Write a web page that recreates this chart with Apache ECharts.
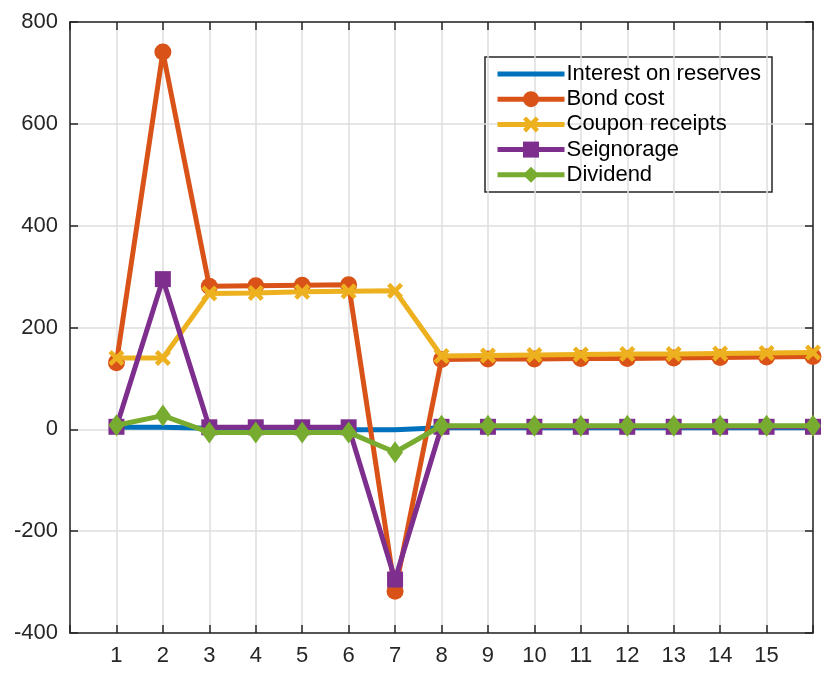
<!DOCTYPE html>
<html>
<head>
<meta charset="utf-8">
<script src="https://cdn.jsdelivr.net/npm/echarts@6/dist/echarts.min.js"></script>
<style>html,body{margin:0;padding:0;background:#fff}#c{width:825px;height:677px}</style>
</head>
<body>
<div id="c"></div>
<script>
const periods = [1,2,3,4,5,6,7,8,9,10,11,12,13,14,15,16];
const interestOnReserves = [4,4,2,1,0,-1,-1,3,3,3,3,3,3,3,3,3];
const bondCost = [131,741,281,282,283,284,-318,137,138,138,139,139,140,141,142,143];
const couponReceipts = [140,140,267,268,270,271,272,144,145,146,147,148,148,149,150,151];
const seignorage = [5,295,4,4,4,4,-295,5,5,5,5,5,5,5,5,5];
const dividend = [8,27,-6,-6,-6,-6,-45,7,7,7,7,7,7,7,7,7];
const yTicks = [-400,-200,0,200,400,600,800];
const xLabels = ['1','2','3','4','5','6','7','8','9','10','11','12','13','14','15'];

const seriesNames = ['Interest on reserves','Bond cost','Coupon receipts','Seignorage','Dividend'];
const colors = ['#0072BD','#D95319','#EDB120','#7E2F8E','#77AC30'];
const xPath = 'path://M0,2 L2,0 L5,3 L8,0 L10,2 L7,5 L10,8 L8,10 L5,7 L2,10 L0,8 L3,5 Z';

function pts(vals){ return periods.map((p,i)=>[p, vals[i]]); }

const font = 'Liberation Sans, Arial, Helvetica, sans-serif';
const axisCol = '#262626';

const chart = echarts.init(document.getElementById('c'), null, {renderer:'canvas'});
const mk = (name, vals, color, symbol, size, z) => ({
  name, type:'line', data: pts(vals), symbol, symbolSize: size, showSymbol: symbol !== 'none',
  lineStyle:{color, width:5}, itemStyle:{color}, z, animation:false
});

const tick = {show:true, inside:true, length:8, lineStyle:{color:axisCol, width:1.5}};
const aline = {show:true, onZero:false, lineStyle:{color:axisCol, width:1.5}};

chart.setOption({
  animation:false,
  color: colors,
  grid:{left:70, right:12, top:22, bottom:44, show:false},
  legend:{
    orient:'vertical', left:490, top:58,
    itemWidth:67, itemHeight:20, itemGap:3.2,
    lineStyle:{width:5},
    textStyle:{fontFamily:font, fontSize:22, color:'#000', padding:[0,0,0,-3]},
    data: seriesNames.map((n,i) => i === 0 ? {name:n,
      itemStyle:{color:'rgba(0,0,0,0)', borderColor:'rgba(0,0,0,0)', borderWidth:0}} : n),
    selectedMode:false
  },
  graphic:[{type:'rect', shape:{x:485, y:57, width:287, height:135}, style:{fill:'#fff', stroke:axisCol, lineWidth:1.5}, z:-1, zlevel:0}],
  xAxis:[{
    type:'value', min:0, max:16, interval:1, position:'bottom',
    axisLine:aline, axisTick:tick,
    axisLabel:{fontFamily:font, fontSize:22, color:axisCol, margin:12,
      formatter:v => (v>=1 && v<=15) ? xLabels[v-1] : ''},
    splitLine:{show:true, lineStyle:{color:'#dedede', width:1.5}}
  },{
    type:'value', min:0, max:16, interval:1, position:'top',
    axisLine:aline, axisTick:tick,
    axisLabel:{show:false}, splitLine:{show:false}
  }],
  yAxis:[{
    type:'value', min:yTicks[0], max:yTicks[yTicks.length-1], interval:200, position:'left',
    axisLine:aline, axisTick:tick,
    axisLabel:{fontFamily:font, fontSize:22, color:axisCol, margin:12},
    splitLine:{show:true, lineStyle:{color:'#dedede', width:1.5}}
  },{
    type:'value', min:yTicks[0], max:yTicks[yTicks.length-1], interval:200, position:'right',
    axisLine:aline, axisTick:tick,
    axisLabel:{show:false}, splitLine:{show:false}
  }],
  series:[
    mk(seriesNames[0], interestOnReserves, colors[0], 'none', 0, 2),
    mk(seriesNames[1], bondCost, colors[1], 'circle', 17, 3),
    mk(seriesNames[2], couponReceipts, colors[2], xPath, 16, 4),
    mk(seriesNames[3], seignorage, colors[3], 'rect', 16, 5),
    mk(seriesNames[4], dividend, colors[4], 'diamond', [16,22], 6)
  ]
});
</script>
</body>
</html>
